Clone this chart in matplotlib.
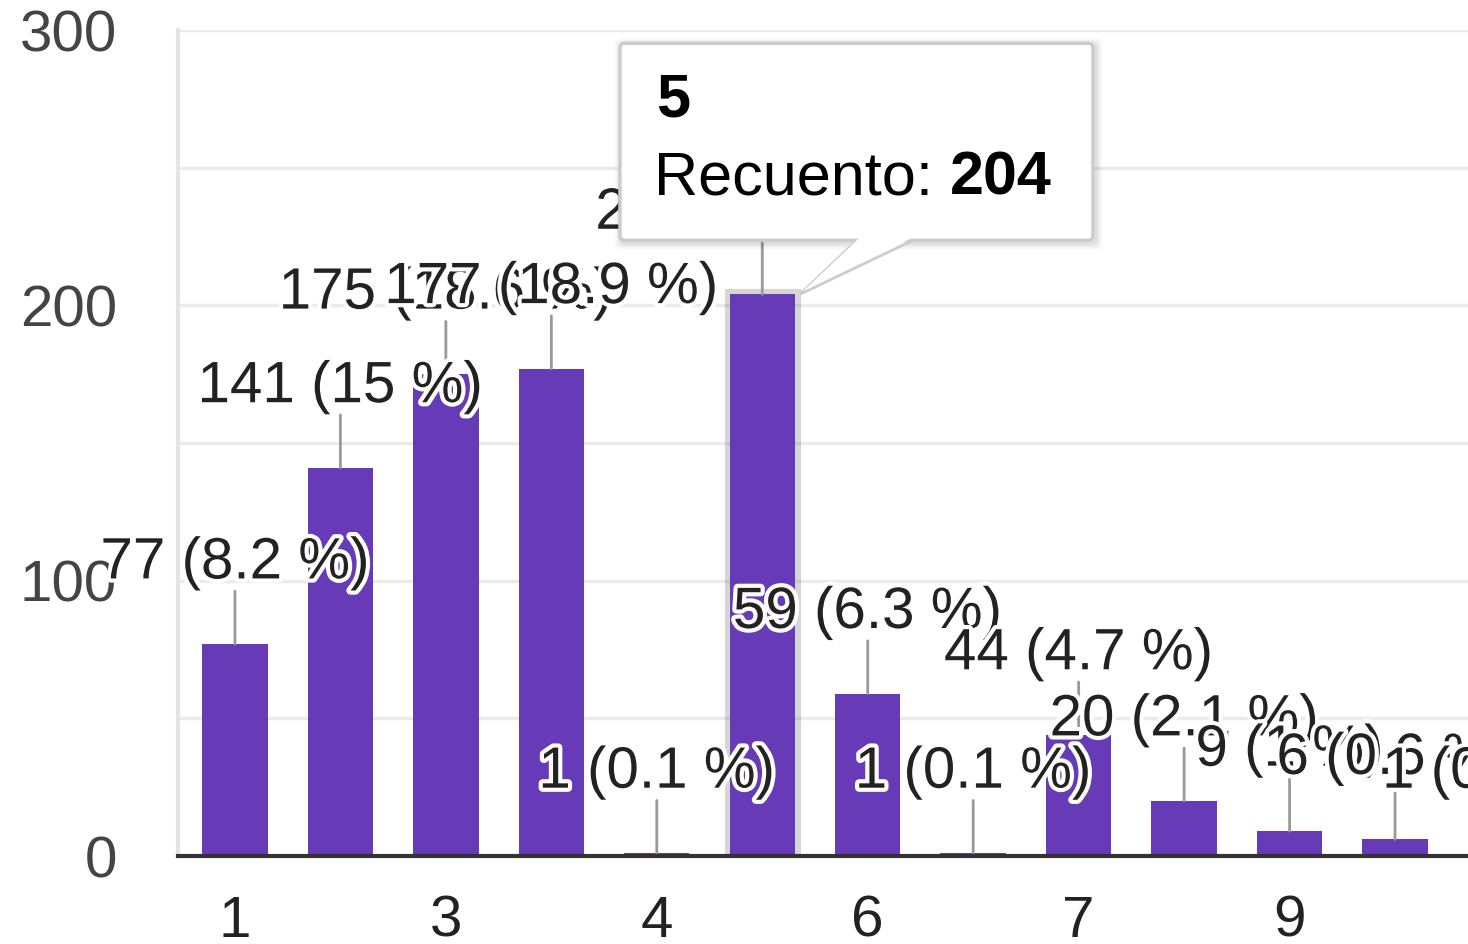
import matplotlib
matplotlib.use("Agg")
import matplotlib.pyplot as plt
import matplotlib.patheffects as pe
from matplotlib.patches import FancyBboxPatch, Polygon

plt.rcParams['font.family'] = ['Liberation Sans', 'DejaVu Sans']

# data
categories = ["1", "2", "3", "3.5", "4", "5", "6", "6.5", "7", "8", "9", "10", "11"]
counts = [77, 141, 175, 177, 1, 204, 59, 1, 44, 20, 9, 6, 1]
percents = ["8.2", "15", "18.6", "18.9", "0.1", "21.7", "6.3", "0.1", "4.7", "2.1", "1", "0.6", "0.1"]
hover_idx = 5

purple = "#673ab7"
bar_w = 0.62
fs = 42

fig = plt.figure(figsize=(14.68, 9.44), dpi=100)
ax = fig.add_axes([178 / 1468, 88 / 944, 1390 / 1468, 826 / 944])

x = list(range(len(categories)))

# hover shadow behind the highlighted bar
ax.bar(hover_idx, counts[hover_idx], width=bar_w, color="none",
       edgecolor=(0, 0, 0, 0.16), linewidth=8, zorder=2)
ax.bar(x, counts, width=bar_w, color=purple, zorder=3)

ax.set_xlim(-0.54, 12.64)
ax.set_ylim(0, 300)
ax.set_yticks([0, 100, 200, 300])
ax.set_yticks([50, 150, 250], minor=True)
ax.grid(axis="y", which="both", color="#ebebeb", linewidth=2.5, zorder=0)
ax.set_axisbelow(True)

ax.set_xticks(x[::2])
ax.set_xticklabels(categories[::2])
ax.tick_params(axis="x", length=0, pad=28, labelsize=fs, labelcolor="#222222")
ax.tick_params(axis="y", which="both", length=0, pad=44, labelsize=fs, labelcolor="#444444")

for s in ["top", "right"]:
    ax.spines[s].set_visible(False)
ax.spines["left"].set_color("#e4e4e4")
ax.spines["left"].set_linewidth(3)
ax.spines["bottom"].set_color("#333333")
ax.spines["bottom"].set_linewidth(3)
ax.spines["bottom"].set_zorder(4)

halo = [pe.withStroke(linewidth=6, foreground="white")]
for i, (v, p) in enumerate(zip(counts, percents)):
    ax.annotate("", xy=(i, v), xytext=(0, 38), textcoords="offset points",
                arrowprops=dict(arrowstyle="-", color="#999999", lw=2,
                                shrinkA=0, shrinkB=0), zorder=4)
    ax.annotate(f"{v} ({p} %)", xy=(i, v), xytext=(0, 58), textcoords="offset points",
                ha="center", va="center", fontsize=fs, color="#222222",
                path_effects=halo, zorder=5, annotation_clip=False)

# tooltip for the hovered bar
fig.canvas.draw()
ax_x, ax_y = ax.transData.transform((hover_idx + bar_w / 2, counts[hover_idx]))
left, right = ax_x - 175, ax_x + 298
bottom, top = ax_y + 54, ax_y + 251
for k, a in [(7, 0.03), (5, 0.04), (3, 0.05)]:
    fig.patches.append(FancyBboxPatch((left - k + 2, bottom - k - 2), right - left + 2 * k, top - bottom + 2 * k,
                                      boxstyle="round,pad=0,rounding_size=7", transform=None,
                                      facecolor=(0, 0, 0, a), edgecolor="none", zorder=8))
fig.patches.append(Polygon([(ax_x + 63, bottom + 1), (ax_x + 120, bottom + 1), (ax_x + 5, ax_y)],
                           closed=True, transform=None, facecolor="white",
                           edgecolor="#cccccc", linewidth=2, zorder=9))
fig.patches.append(FancyBboxPatch((left, bottom), right - left, top - bottom,
                                  boxstyle="round,pad=0,rounding_size=5", transform=None,
                                  facecolor="white", edgecolor="#cccccc", linewidth=2.5, zorder=10))
fig.patches.append(Polygon([(ax_x + 65, bottom + 3), (ax_x + 118, bottom + 3), (ax_x + 8, ax_y + 3)],
                           closed=True, transform=None, facecolor="white",
                           edgecolor="none", zorder=11))
tip_fs = 44
fig.text((left + 36) / 1468, (top - 58) / 944, categories[hover_idx], fontsize=tip_fs,
         fontweight="bold", color="black", ha="left", va="center", zorder=12)
t1 = fig.text((left + 34) / 1468, (top - 136) / 944, "Recuento: ", fontsize=tip_fs,
              color="black", ha="left", va="center", zorder=12)
fig.canvas.draw()
bb = t1.get_window_extent()
fig.text(bb.x1 / 1468, (top - 136) / 944, str(counts[hover_idx]), fontsize=tip_fs,
         fontweight="bold", color="black", ha="left", va="center", zorder=12)

fig.savefig("out.png", dpi=100)
